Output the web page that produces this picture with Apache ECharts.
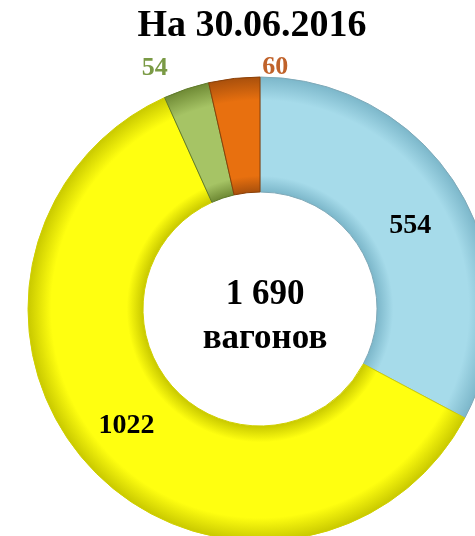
<!DOCTYPE html>
<html>
<head>
<meta charset="utf-8">
<script src="https://cdn.jsdelivr.net/npm/echarts@6/dist/echarts.min.js"></script>
<style>
  html, body { margin: 0; padding: 0; background: #fff; }
  #chart { width: 475px; height: 536px; }
</style>
</head>
<body>
<div id="chart"></div>
<script>
var categories = ['A', 'B', 'C', 'D'];
var values = [554, 1022, 54, 60];
var titleText = 'На 30.06.2016';
var totalText = '1 690';
var unitText = 'вагонов';

var serif = "'Liberation Serif', 'Times New Roman', serif";
var cx = 260, cy = 309, rIn = 117, rOut = 232;

// bevel-like shading: dark at the ring edges, light in the middle
function ring(dark, light) {
  var k = rIn / rOut;
  return {
    type: 'radial', x: cx, y: cy, r: rOut, global: true,
    colorStops: [
      { offset: 0, color: dark },
      { offset: k, color: dark },
      { offset: k + 0.07, color: light },
      { offset: 0.9, color: light },
      { offset: 1, color: dark }
    ]
  };
}

var fills = [
  ring('#7cb7ca', '#a6dbea'),
  ring('#c9c900', '#ffff10'),
  ring('#6f8a35', '#a6c465'),
  ring('#a9500c', '#e8700f')
];
var borders = ['#7fa9b8', '#d0d000', '#5f7a2a', '#8a4008'];
var labelColors = ['#000', '#000', '#7a9a45', '#c0622a'];

var chart = echarts.init(document.getElementById('chart'));

var data = values.map(function (v, i) {
  var small = v < 100;
  return {
    name: categories[i],
    value: v,
    itemStyle: { color: fills[i], borderColor: borders[i], borderWidth: 1 },
    label: {
      position: small ? 'outside' : 'inside',
      color: labelColors[i],
      fontSize: small ? 26 : 28
    },
    labelLine: { show: false, length: 8, length2: 0 }
  };
});

var shifts = { 0: [-2, 8], 1: [-4, -5], 2: [-11, -13], 3: [60, -3] };

chart.setOption({
  animation: false,
  title: [
    {
      text: titleText,
      left: 247, top: 2, textAlign: 'center',
      textStyle: { fontFamily: serif, fontWeight: 'bold', fontSize: 38, color: '#000' }
    },
    {
      text: totalText + '\n' + unitText,
      left: cx, top: cy - 41, textAlign: 'center',
      textStyle: { fontFamily: serif, fontWeight: 'bold', fontSize: 35, lineHeight: 44, color: '#000' }
    }
  ],
  series: [{
    type: 'pie',
    center: [cx, cy],
    radius: [rIn, rOut],
    startAngle: 90,
    clockwise: true,
    avoidLabelOverlap: false,
    label: {
      show: true,
      formatter: '{c}',
      fontFamily: serif,
      fontWeight: 'bold'
    },
    labelLayout: function (p) {
      var s = shifts[p.dataIndex];
      return s ? { dx: s[0], dy: s[1] } : {};
    },
    data: data
  }]
});
</script>
</body>
</html>
